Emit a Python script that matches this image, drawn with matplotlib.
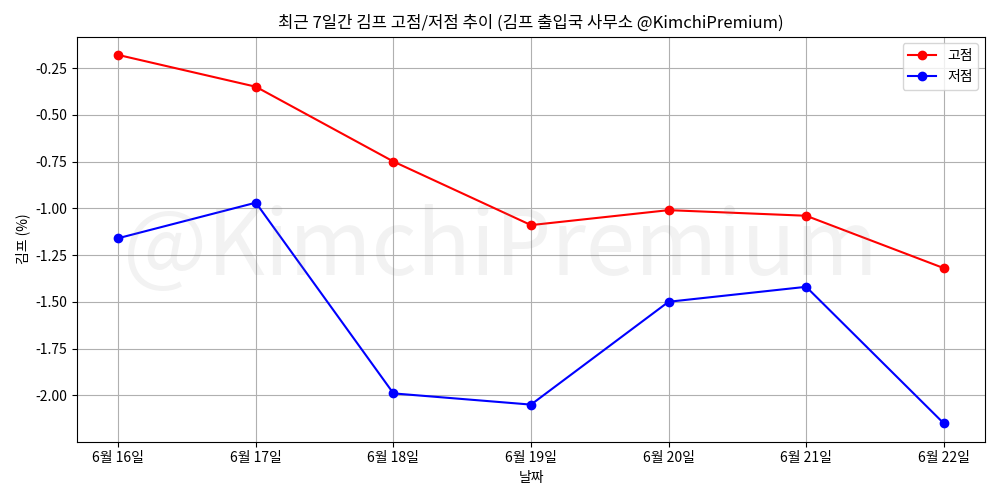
import matplotlib.pyplot as plt

plt.rcParams['font.family'] = ['Noto Sans CJK KR', 'DejaVu Sans']
plt.rcParams['axes.unicode_minus'] = False

dates = ['6월 16일', '6월 17일', '6월 18일', '6월 19일', '6월 20일', '6월 21일', '6월 22일']
high = [-0.18, -0.35, -0.75, -1.09, -1.01, -1.04, -1.32]
low = [-1.16, -0.97, -1.99, -2.05, -1.50, -1.42, -2.15]

fig, ax = plt.subplots(figsize=(10, 5), dpi=100)
ax.plot(dates, high, marker='o', color='red', label='고점')
ax.plot(dates, low, marker='o', color='blue', label='저점')
fig.text(0.5, 0.5, '@KimchiPremium', fontsize=64,
         color='gray', alpha=0.1, ha='center', va='center')
ax.set_title('최근 7일간 김프 고점/저점 추이 (김프 출입국 사무소 @KimchiPremium)')
ax.set_xlabel('날짜')
ax.set_ylabel('김프 (%)')
ax.grid(True)
ax.legend(loc='upper right')
plt.tight_layout()
plt.subplots_adjust(left=0.077, right=0.985)
plt.savefig('out.png')
